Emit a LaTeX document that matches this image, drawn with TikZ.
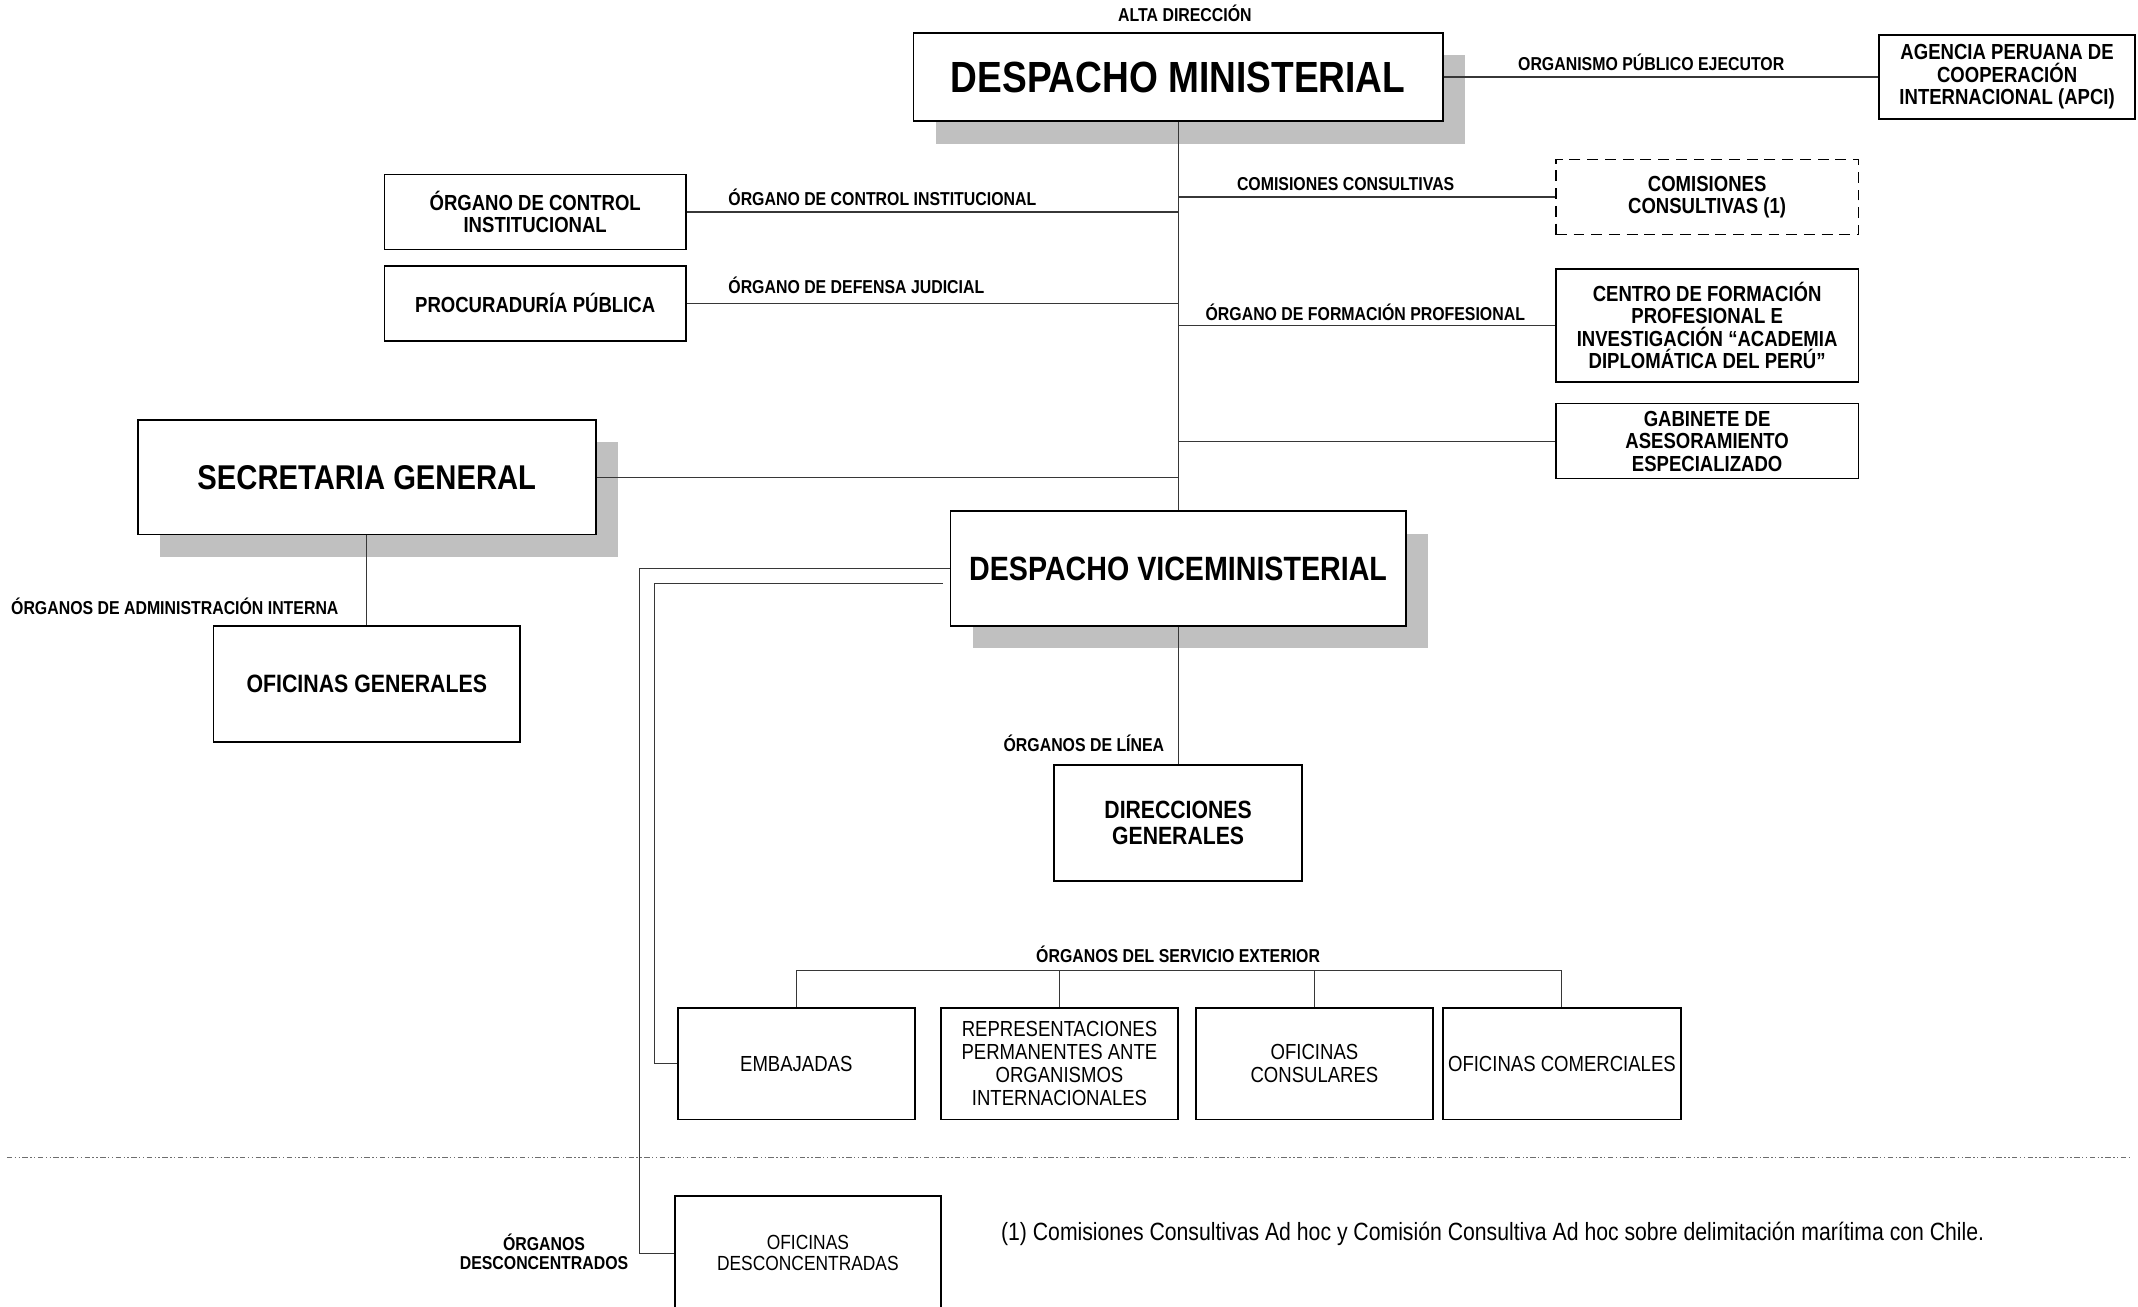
\documentclass[tikz,border=0pt]{standalone}
\usepackage{fontspec}
\setmainfont{Liberation Sans}[FakeStretch=0.85]
\usetikzlibrary{shadows}

\definecolor{shade}{RGB}{192,192,192}
\definecolor{wirecol}{RGB}{55,55,55}
\definecolor{sepcol}{RGB}{110,110,110}
\newcommand\orgsize[2]{\fontsize{#1}{#2}\selectfont}

\begin{document}
\begin{tikzpicture}[x=1pt, y=-1pt,
  unit/.style={draw=black, line width=1.3pt, fill=white, inner sep=0pt,
               align=center, text=black},
  chief/.style={unit, drop shadow={shadow xshift=16.5pt, shadow yshift=-16.5pt,
               fill=shade, opacity=1}},
  bigbold/.style={font=\bfseries\orgsize{16}{16.5}},
  plain/.style={font=\orgsize{16}{16.7}},
  wire/.style={draw=wirecol, line width=0.8pt},
  tag/.style={font=\bfseries\orgsize{13.7}{14}, inner sep=0pt}]

\useasboundingbox (0,0) rectangle (1568,958);
\clip (0,0) rectangle (1568,958);

% ---- top management ----
\node[chief, minimum width=388pt, minimum height=65pt,
      font=\bfseries\orgsize{32}{34}] (dm) at (864,56.5) {DESPACHO MINISTERIAL};
\node[unit, bigbold, minimum width=188pt, minimum height=62pt] (apci) at (1472,56.5)
  {AGENCIA PERUANA DE\\COOPERACIÓN\\INTERNACIONAL (APCI)};

% ---- bodies attached to the ministerial trunk ----
\node[unit, bigbold, minimum width=221pt, minimum height=55pt] (oci) at (392.5,155.5)
  {ÓRGANO DE CONTROL\\INSTITUCIONAL};
\node[unit, bigbold, minimum width=221pt, minimum height=55pt] (pp) at (392.5,222.5)
  {PROCURADURÍA PÚBLICA};
\node[unit, bigbold, dash pattern=on 8pt off 5pt, minimum width=222pt, minimum height=55pt]
  (com) at (1252,144.5) {COMISIONES\\CONSULTIVAS (1)};
\node[unit, bigbold, minimum width=222pt, minimum height=83pt] (cfp) at (1252,238.5)
  {CENTRO DE FORMACIÓN\\PROFESIONAL E\\INVESTIGACIÓN “ACADEMIA\\DIPLOMÁTICA DEL PERÚ”};
\node[unit, bigbold, minimum width=222pt, minimum height=55pt] (gab) at (1252,323.5)
  {GABINETE DE\\ASESORAMIENTO\\ESPECIALIZADO};

% ---- general secretariat ----
\node[chief, minimum width=336pt, minimum height=84pt,
      font=\bfseries\orgsize{25.2}{27}] (sg) at (269,350) {SECRETARIA GENERAL};
\node[unit, minimum width=225pt, minimum height=85pt,
      font=\bfseries\orgsize{18.4}{19}] (og) at (269,501.5) {OFICINAS GENERALES};

% ---- vice-ministerial office and line bodies ----
\node[chief, minimum width=334pt, minimum height=84pt,
      font=\bfseries\orgsize{24.7}{26}] (dv) at (864,417) {DESPACHO VICEMINISTERIAL};
\node[unit, minimum width=182pt, minimum height=85pt,
      font=\bfseries\orgsize{18.3}{19}] (dg) at (864,603.5) {DIRECCIONES\\GENERALES};

% ---- foreign service bodies ----
\node[unit, plain, minimum width=174pt, minimum height=82pt] (emb) at (584,780) {EMBAJADAS};
\node[unit, plain, minimum width=174pt, minimum height=82pt] (rep) at (777,780)
  {REPRESENTACIONES\\PERMANENTES ANTE\\ORGANISMOS\\INTERNACIONALES};
\node[unit, plain, minimum width=174pt, minimum height=82pt] (cons) at (964,780)
  {OFICINAS\\CONSULARES};
\node[unit, plain, minimum width=175pt, minimum height=82pt] (comr) at (1145.5,780)
  {OFICINAS COMERCIALES};

% ---- decentralised bodies (box runs past the lower edge) ----
\node[unit, minimum width=195pt, minimum height=84pt,
      font=\orgsize{15}{15.2}] (od) at (592.5,919) {OFICINAS\\DESCONCENTRADAS};

% ---- labels ----
\node[tag, anchor=base] (altaLbl) at (869,16) {ALTA DIRECCIÓN};
\node[tag, anchor=base] (opeLbl) at (1211,52) {ORGANISMO PÚBLICO EJECUTOR};
\node[tag, anchor=base west] (ociLbl) at (534,151) {ÓRGANO DE CONTROL INSTITUCIONAL};
\node[tag, anchor=base west] (ppLbl) at (534,215) {ÓRGANO DE DEFENSA JUDICIAL};
\node[tag, anchor=base west] (comLbl) at (907,140) {COMISIONES CONSULTIVAS};
\node[tag, anchor=base west] (cfpLbl) at (884,235) {ÓRGANO DE FORMACIÓN PROFESIONAL};
\node[tag, anchor=base west] (sgLbl) at (8,451) {ÓRGANOS DE ADMINISTRACIÓN INTERNA};
\node[tag, anchor=base east] (dgLbl) at (854,551) {ÓRGANOS DE LÍNEA};
\node[tag, anchor=base] (seLbl) at (864,706) {ÓRGANOS DEL SERVICIO EXTERIOR};
\node[tag, align=center] (odLbl) at (399,918) {ÓRGANOS\\DESCONCENTRADOS};
\node[anchor=base west, inner sep=0pt, font=\orgsize{18.3}{20}] (note) at (734,910)
  {(1) Comisiones Consultivas Ad hoc y Comisión Consultiva Ad hoc sobre delimitación marítima con Chile.};

% ---- connectors ----
\coordinate (outerX) at (469,0);
\coordinate (innerX) at (480,0);
\coordinate (seBus) at (0,712);
\coordinate (dvTap) at ([xshift=-5pt,yshift=-11pt]dv.west);

\draw[wire] (dm.south) -- (dv.north);
\draw[wire] (dm.east) -- (apci.west);
\draw[wire] (oci.east) -- (oci.east -| dm.south);
\draw[wire] (pp.east) -- (pp.east -| dm.south);
\draw[wire] (dm.south |- com.west) -- (com.west);
\draw[wire] (dm.south |- cfp.west) -- (cfp.west);
\draw[wire] (dm.south |- gab.west) -- (gab.west);
\draw[wire] (sg.east) -- (sg.east -| dm.south);
\draw[wire] (sg.south) -- (og.north);
\draw[wire] (dv.south) -- (dg.north);

\draw[wire] (dv.west) -- (dv.west -| outerX) |- (od.west);
\draw[wire] (dvTap) -- (dvTap -| innerX) |- (emb.west);

\draw[wire] (emb.north) -- (emb.north |- seBus) -- (comr.north |- seBus) -- (comr.north);
\draw[wire] (rep.north) -- (rep.north |- seBus);
\draw[wire] (cons.north) -- (cons.north |- seBus);

% ---- boundary between headquarters and decentralised bodies ----
\draw[sepcol, line width=1pt,
      dash pattern=on 4pt off 1.8pt on 1pt off 1.8pt on 1pt off 1.8pt] (5,849) -- (1562,849);

\end{tikzpicture}
\end{document}
